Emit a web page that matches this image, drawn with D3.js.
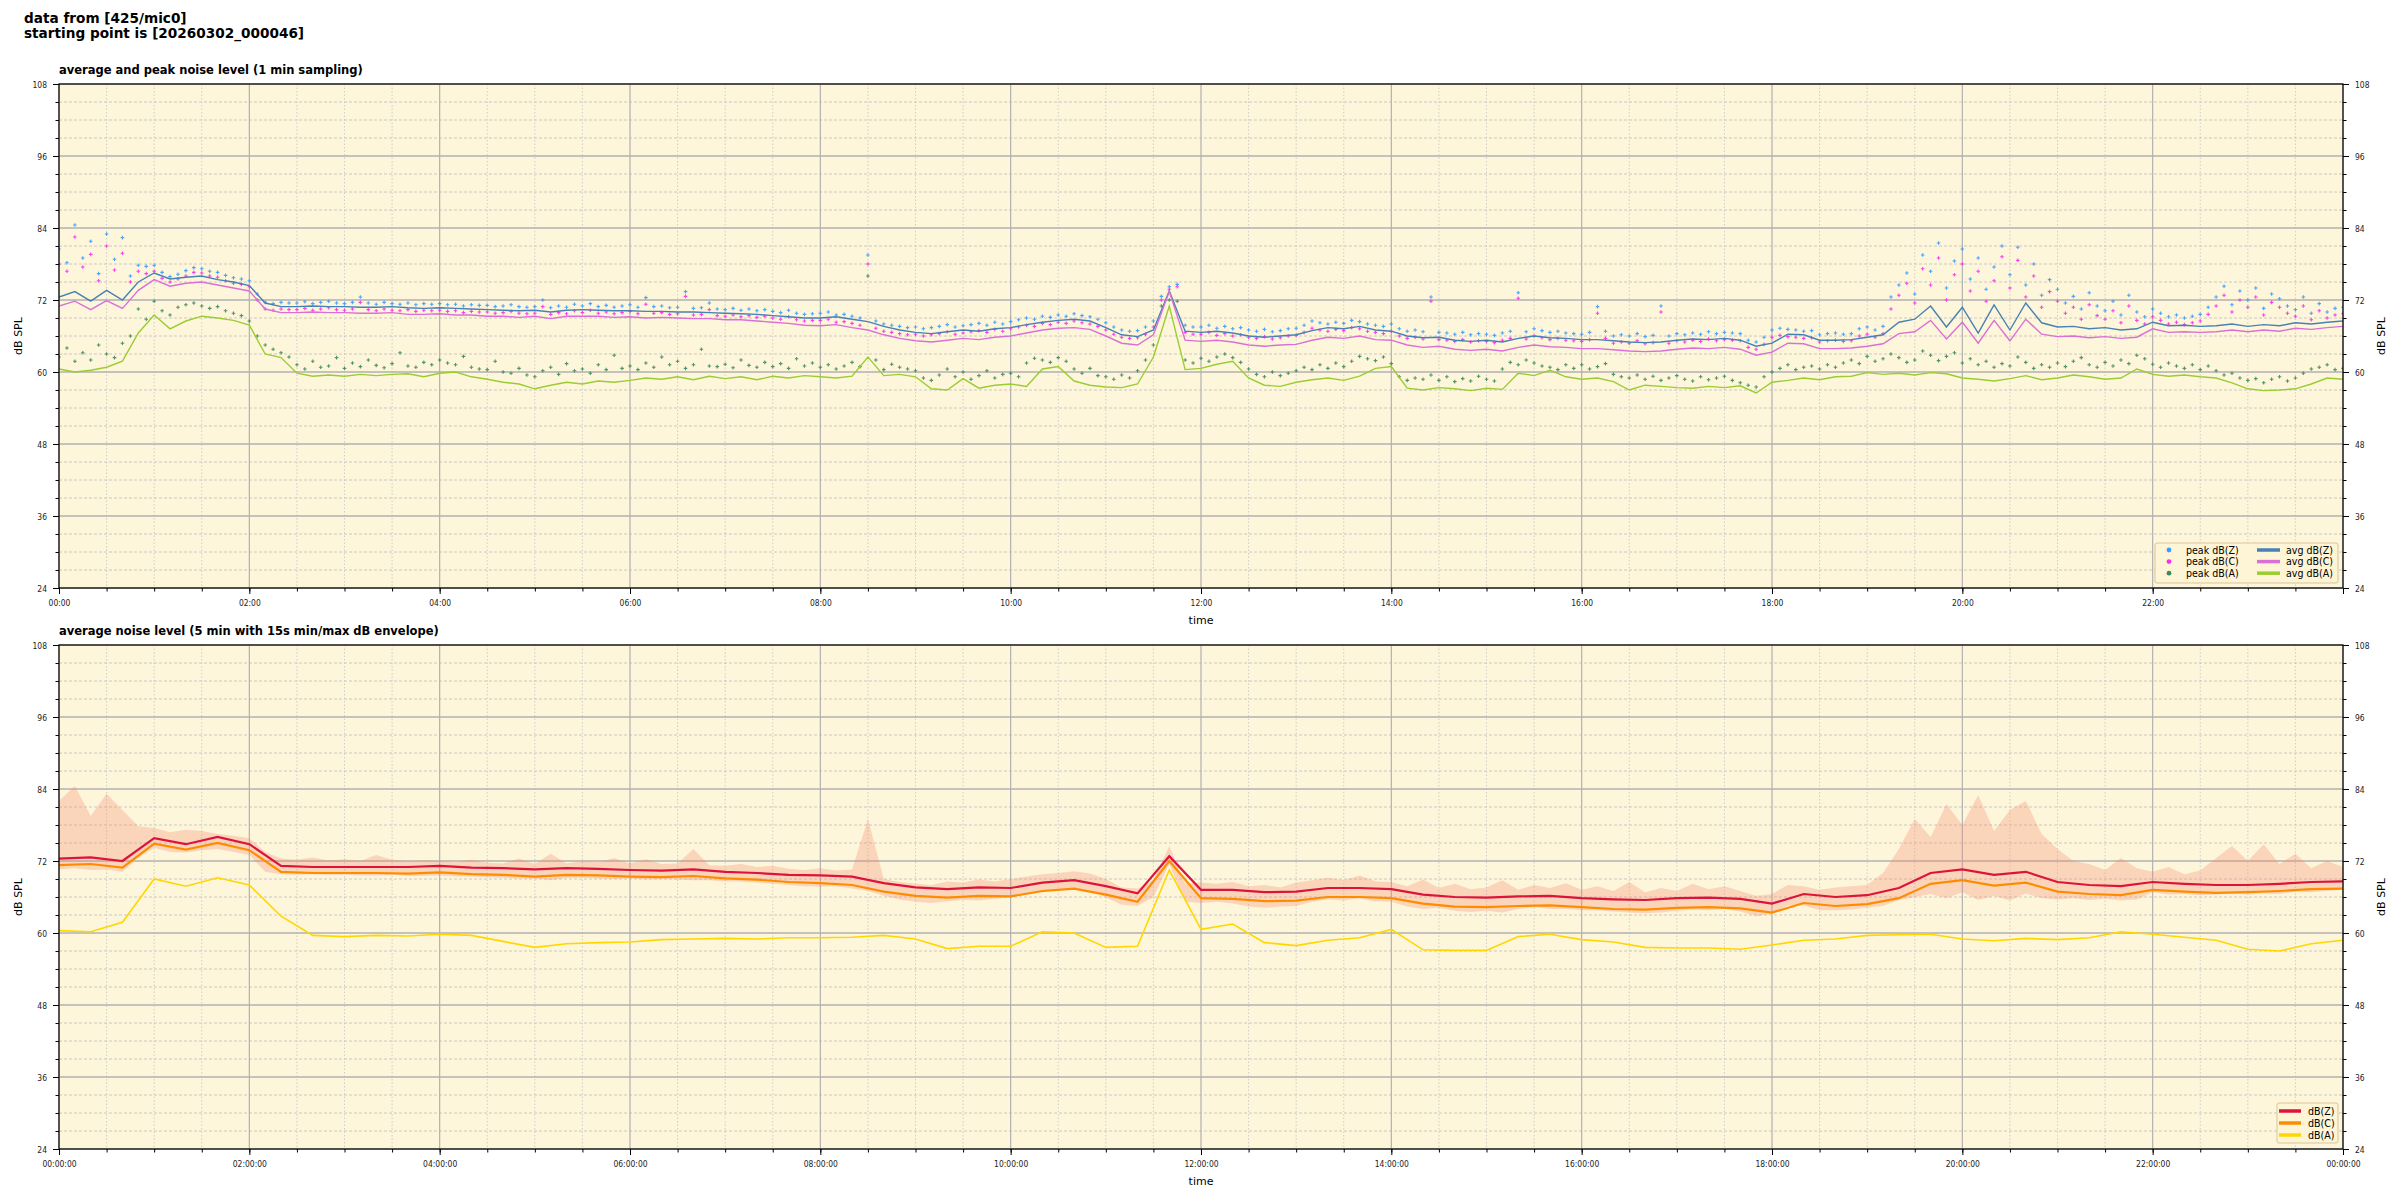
<!DOCTYPE html>
<html>
<head>
<meta charset="utf-8">
<script src="https://cdn.jsdelivr.net/npm/d3@7"></script>
<style>
  body { margin: 0; background: #fff; }
  svg { display: block; }
  text { font-family: "DejaVu Sans", sans-serif; }
</style>
</head>
<body>
<svg id="chart" width="2400" height="1200"></svg>
<script>
// ---- data (dB SPL) ----
// top panel, averages every 10 min, 00:00 .. 24:00 (one row per hour)
var avgZ = [
  72.5, 73.4, 71.8, 73.6, 72.0, 75.0,
  76.5, 75.5, 75.8, 76.0, 75.4, 75.0,
  74.4, 71.5, 70.9, 70.9, 71.0, 70.9,
  70.9, 70.8, 70.8, 70.9, 70.7, 70.6,
  70.7, 70.6, 70.5, 70.4, 70.3, 70.2,
  70.3, 70.0, 70.3, 70.4, 70.3, 70.2,
  70.2, 70.1, 70.1, 70.0, 70.0, 69.9,
  69.8, 69.7, 69.6, 69.4, 69.2, 69.0,
  69.0, 69.2, 68.8, 68.4, 67.6, 67.0,
  66.6, 66.4, 66.7, 67.0, 66.8, 67.2,
  67.4, 67.9, 68.3, 68.6, 68.8, 68.5,
  67.4, 66.2, 65.9, 67.0, 73.5, 66.8,
  66.6, 66.8, 66.5, 66.0, 65.8, 66.0,
  66.2, 66.9, 67.4, 67.2, 67.6, 67.0,
  66.8, 66.0, 65.7, 65.8, 65.3, 65.1,
  65.3, 65.0, 65.6, 66.0, 65.7, 65.6,
  65.4, 65.4, 65.2, 65.0, 64.9, 65.0,
  65.3, 65.5, 65.4, 65.6, 65.3, 64.3,
  64.8, 66.3, 66.2, 65.3, 65.3, 65.4,
  65.8, 66.2, 68.3, 68.8, 71.0, 67.5,
  70.8, 66.5, 71.2, 67.0, 71.5, 68.2,
  67.5, 67.6, 67.2, 67.4, 67.0, 67.2,
  68.3, 67.7, 67.8, 67.6, 67.7, 68.0,
  67.6, 67.9, 67.7, 68.2, 68.0, 68.3,
  68.5
];
var avgC = [
  71.0, 71.8, 70.4, 71.9, 70.6, 73.6,
  75.4, 74.3, 74.8, 75.0, 74.5, 74.0,
  73.5, 70.5, 69.9, 69.9, 70.0, 69.9,
  69.9, 69.8, 69.8, 69.9, 69.6, 69.6,
  69.7, 69.5, 69.5, 69.3, 69.3, 69.1,
  69.3, 68.9, 69.3, 69.3, 69.3, 69.1,
  69.2, 69.0, 69.1, 69.0, 68.9, 68.9,
  68.7, 68.7, 68.5, 68.3, 68.1, 67.8,
  67.7, 67.9, 67.4, 67.0, 66.2, 65.6,
  65.2, 65.0, 65.3, 65.6, 65.4, 65.8,
  66.0, 66.5, 67.0, 67.3, 67.4, 67.1,
  66.0, 64.8, 64.5, 66.2, 73.4, 65.3,
  65.1, 65.3, 65.0, 64.5, 64.3, 64.5,
  64.6, 65.3, 65.8, 65.6, 66.0, 65.4,
  65.3, 64.5, 64.1, 64.3, 63.8, 63.6,
  63.8, 63.5, 64.1, 64.5, 64.2, 64.1,
  63.9, 63.9, 63.7, 63.5, 63.4, 63.5,
  63.8, 64.0, 63.9, 64.1, 63.8, 62.8,
  63.3, 64.8, 64.7, 63.9, 63.9, 64.0,
  64.3, 64.7, 66.4, 66.7, 68.6, 65.5,
  68.3, 64.8, 68.6, 65.2, 68.8, 66.3,
  65.9, 66.0, 65.7, 65.9, 65.6, 65.8,
  67.2, 66.6, 66.7, 66.6, 66.7, 67.0,
  66.7, 67.0, 66.8, 67.3, 67.1, 67.4,
  67.6
];
var avgA = [
  60.5, 60.0, 60.3, 60.8, 61.8, 66.5,
  69.5, 67.2, 68.5, 69.3, 69.0, 68.6,
  67.8, 63.0, 62.4, 59.8, 59.3, 59.5,
  59.3, 59.6, 59.4, 59.6, 59.7, 59.2,
  59.8, 60.0, 59.2, 58.8, 58.3, 58.0,
  57.2, 57.8, 58.3, 58.0, 58.5, 58.3,
  58.6, 59.0, 58.8, 59.2, 58.7, 59.3,
  58.9, 59.2, 58.7, 59.3, 59.0, 59.4,
  59.2, 59.0, 59.3, 62.5, 59.4, 59.6,
  59.2, 57.2, 57.0, 58.9, 57.3, 57.8,
  58.0, 57.6, 60.5, 60.9, 58.5, 57.8,
  57.5, 57.4, 58.0, 62.5, 71.0, 60.4,
  60.6, 61.3, 61.8, 59.0, 57.8, 57.6,
  58.3, 58.7, 59.0, 58.6, 59.3, 60.6,
  60.9, 57.3, 57.0, 57.4, 57.2, 56.9,
  57.3, 57.1, 59.8, 59.4, 60.3, 59.2,
  58.8, 59.0, 58.4, 57.0, 57.8, 57.6,
  57.4, 57.3, 57.6, 57.4, 57.7, 56.5,
  58.3, 58.6, 59.0, 58.7, 59.2, 59.3,
  59.9, 59.6, 59.8, 59.5, 59.9, 59.7,
  59.0, 58.8, 58.5, 58.9, 59.4, 58.7,
  59.0, 59.5, 59.2, 58.8, 59.0, 60.5,
  59.6, 59.3, 59.5, 59.2, 59.0, 58.2,
  57.2, 56.9, 57.0, 57.2, 58.0, 59.0,
  58.8
];
// top panel, peaks every 5 min (one row per hour)
var peakZ = [
  80.5, 78.2, 84.5, 79.0, 81.8, 76.4, 83.0, 78.8, 82.4, 76.0, 77.8, 77.6,
  77.8, 76.6, 75.9, 76.3, 76.9, 77.4, 77.2, 76.8, 76.6, 76.1, 75.7, 75.5,
  75.2, 73.0, 71.6, 71.4, 71.6, 71.5, 71.5, 71.7, 71.4, 71.6, 71.8, 71.5,
  71.4, 71.6, 72.5, 71.5, 71.3, 71.6, 71.4, 71.3, 71.5, 71.2, 71.4, 71.3,
  71.4, 71.2, 71.3, 71.0, 71.2, 71.1, 71.1, 70.9, 71.0, 71.2, 70.9, 70.8,
  70.9, 72.0, 70.7, 71.0, 70.8, 71.3, 71.0, 71.4, 70.9, 71.1, 70.8, 71.0,
  71.2, 70.8, 72.4, 70.9, 71.0, 70.7, 70.8, 73.4, 70.6, 70.7, 71.5, 70.5,
  70.4, 70.6, 70.3, 70.5, 70.2, 70.4, 70.1, 69.9, 70.3, 69.8, 69.6, 69.7,
  69.8, 70.0, 69.5, 69.6, 69.3, 69.0, 79.5, 68.5, 68.0, 67.8, 67.6, 67.4,
  67.5, 67.2, 67.4, 67.6, 67.9, 67.5, 67.7, 67.9, 68.1, 67.8, 68.3, 68.0,
  68.4, 68.7, 69.0, 68.8, 69.3, 69.1, 69.5, 69.3, 69.7, 69.4, 69.2, 68.8,
  68.2, 67.5, 67.0, 66.8, 66.9, 67.5, 68.5, 72.6, 74.2, 74.6, 67.8, 67.5,
  67.5, 67.8, 67.3, 67.6, 67.2, 67.4, 67.0, 66.8, 67.1, 66.7, 66.9, 67.2,
  67.3, 67.8, 68.5, 68.2, 68.0, 68.3, 68.1, 68.6, 68.4, 68.0, 67.8, 67.6,
  68.0, 67.2, 66.8, 67.0, 66.7, 72.5, 66.6, 66.5, 66.3, 66.6, 66.2, 66.4,
  66.3, 66.1, 66.5, 66.8, 73.2, 66.7, 67.2, 66.9, 66.6, 66.8, 66.5, 66.4,
  66.3, 66.6, 70.9, 66.8, 66.0, 66.2, 66.0, 66.4, 65.9, 66.1, 71.0, 66.0,
  66.4, 66.2, 66.5, 66.3, 66.7, 66.4, 66.6, 66.5, 66.4, 65.3, 65.0, 65.8,
  67.0, 67.3, 67.1, 67.0, 66.8, 66.9, 66.2, 66.4, 66.5, 66.3, 66.4, 67.2,
  67.5, 67.0, 67.6, 72.5, 74.5, 76.5, 73.0, 79.5, 76.8, 81.5, 74.0, 78.5,
  80.5, 75.5, 79.0, 73.8, 77.5, 81.0, 76.2, 80.8, 74.5, 78.0, 72.8, 75.4,
  73.8, 71.5, 72.6, 70.5, 73.2, 71.0, 70.2, 71.8, 69.5, 72.8, 70.0, 69.2,
  70.5, 69.8, 69.2, 69.5, 69.0, 69.3, 69.6, 70.8, 72.5, 74.3, 71.2, 73.5,
  72.0, 74.0, 70.6, 73.0, 72.2, 71.0, 70.4, 72.5, 69.8, 71.4, 70.0, 70.6,
  70.8
];
var peakC = [
  78.0, 76.8, 82.5, 77.5, 79.6, 75.2, 81.0, 77.0, 79.8, 75.0, 76.8, 76.4,
  76.8, 75.6, 75.0, 75.5, 76.0, 76.6, 76.5, 76.0, 75.8, 75.2, 74.8, 74.6,
  74.2, 72.0, 70.5, 70.3, 70.5, 70.4, 70.4, 70.6, 70.3, 70.5, 70.7, 70.4,
  70.3, 70.5, 71.6, 70.4, 70.2, 70.5, 70.3, 70.2, 70.4, 70.1, 70.3, 70.2,
  70.3, 70.1, 70.2, 69.9, 70.1, 70.0, 70.0, 69.8, 69.9, 70.1, 69.8, 69.7,
  69.8, 70.9, 69.6, 69.9, 69.7, 70.2, 69.9, 70.3, 69.8, 70.0, 69.7, 69.9,
  70.1, 69.7, 71.3, 69.8, 69.9, 69.6, 69.7, 72.6, 69.5, 69.6, 70.4, 69.4,
  69.3, 69.5, 69.2, 69.4, 69.1, 69.3, 69.0, 68.8, 69.2, 68.7, 68.5, 68.6,
  68.6, 68.8, 68.3, 68.4, 68.1, 67.8, 78.0, 67.3, 66.8, 66.6, 66.4, 66.2,
  66.3, 66.0, 66.2, 66.4, 66.7, 66.3, 66.5, 66.7, 66.9, 66.6, 67.1, 66.8,
  67.2, 67.5, 67.8, 67.6, 68.1, 67.9, 68.3, 68.1, 68.5, 68.2, 68.0, 67.6,
  67.0, 66.3, 65.8, 65.6, 65.7, 66.3, 67.5, 72.0, 73.8, 74.2, 66.6, 66.3,
  66.3, 66.6, 66.1, 66.4, 66.0, 66.2, 65.8, 65.6, 65.9, 65.5, 65.7, 66.0,
  66.1, 66.6, 67.3, 67.0, 66.8, 67.1, 66.9, 67.4, 67.2, 66.8, 66.6, 66.4,
  66.8, 66.0, 65.6, 65.8, 65.5, 71.8, 65.4, 65.3, 65.1, 65.4, 65.0, 65.2,
  65.1, 64.9, 65.3, 65.6, 72.3, 65.5, 66.0, 65.7, 65.4, 65.6, 65.3, 65.2,
  65.1, 65.4, 69.8, 65.6, 64.8, 65.0, 64.8, 65.2, 64.7, 64.9, 70.0, 64.8,
  65.2, 65.0, 65.3, 65.1, 65.5, 65.2, 65.4, 65.3, 65.2, 64.1, 63.8, 64.6,
  65.8, 66.1, 65.9, 65.8, 65.6, 65.7, 65.0, 65.2, 65.3, 65.1, 65.2, 66.0,
  66.3, 65.8, 66.4, 70.5, 72.8, 74.8, 71.5, 77.2, 74.5, 79.0, 72.0, 76.2,
  78.0, 73.5, 76.8, 71.8, 75.2, 79.2, 74.0, 78.6, 72.5, 76.0, 70.8, 73.4,
  71.8, 69.8, 70.8, 68.8, 71.2, 69.4, 68.8, 70.2, 68.2, 71.0, 68.6, 68.0,
  69.2, 68.6, 68.0, 68.3, 67.9, 68.2, 68.5, 69.6, 71.0, 72.8, 70.0, 72.0,
  70.8, 72.5, 69.5, 71.6, 70.8, 69.8, 69.3, 71.0, 68.7, 70.2, 69.0, 69.5,
  69.7
];
var peakA = [
  62.5, 64.0, 61.8, 63.2, 62.0, 64.5, 63.0, 62.4, 64.8, 66.0, 70.5, 68.8,
  71.8, 70.2, 69.5, 70.8, 71.2, 71.5, 71.0, 70.6, 70.9, 70.2, 69.8, 69.4,
  68.5, 66.0, 64.5, 63.8, 63.2, 62.5, 61.2, 60.5, 61.8, 60.8, 61.0, 62.4,
  60.6, 61.5, 60.9, 62.0, 61.1, 60.7, 61.4, 63.2, 61.0, 60.8, 61.6, 61.2,
  62.0, 61.5, 61.2, 62.6, 60.8, 60.5, 60.4, 61.8, 60.0, 59.8, 60.6, 59.5,
  59.2, 60.2, 60.8, 59.6, 61.4, 60.2, 60.5, 59.8, 61.2, 60.4, 62.8, 60.6,
  61.0, 60.4, 61.5, 60.8, 62.5, 61.2, 61.8, 60.6, 61.2, 63.8, 61.0, 60.9,
  61.3, 60.7, 62.0, 61.1, 60.8, 61.6, 60.9, 61.4, 60.6, 62.2, 61.0, 61.5,
  60.8, 61.2, 60.5, 61.0, 61.6, 60.9, 76.0, 62.0, 60.4, 61.3, 60.8, 60.5,
  60.2, 59.0, 58.6, 59.5, 60.5, 59.2, 60.0, 58.8, 59.4, 60.2, 59.0, 59.6,
  59.8, 59.2, 61.5, 62.3, 62.0, 61.6, 62.4, 61.8, 60.5, 59.8, 60.6, 59.4,
  59.2, 58.8, 59.5, 59.0, 60.2, 62.0, 64.5, 71.0, 72.0, 71.8, 62.0, 61.5,
  62.3, 61.8, 62.5, 63.0, 62.4, 61.6, 60.5, 59.6, 59.2, 60.0, 59.4, 59.8,
  60.2, 60.8, 60.4, 61.2, 60.6, 61.5, 60.9, 61.8, 62.6, 62.2, 61.9, 62.5,
  61.4, 59.2, 58.6, 59.0, 58.8, 59.5, 58.6, 59.2, 58.4, 58.9, 58.5, 59.3,
  58.8, 58.5, 60.5, 61.6, 61.2, 62.0, 61.5, 61.0, 60.8, 60.4, 61.2, 60.6,
  61.2, 60.5, 60.9, 61.4, 59.6, 59.2, 59.0, 59.5, 58.8, 59.3, 58.6, 59.0,
  59.4, 58.8, 58.5, 59.2, 58.7, 59.0, 59.3, 58.6, 58.2, 57.8, 57.5, 59.2,
  60.0, 60.6, 61.2, 60.4, 60.8, 61.0, 60.5, 61.2, 60.8, 61.5, 62.0, 61.4,
  62.6, 61.8, 62.2, 63.0, 62.4, 61.6, 62.0, 63.5, 62.8, 61.9, 62.6, 63.2,
  61.5, 62.2, 61.2, 61.8, 60.8, 61.4, 61.0, 62.5, 61.6, 60.6, 61.2, 60.8,
  61.5, 60.9, 61.8, 62.4, 61.2, 60.8, 61.6, 61.0, 62.0, 61.4, 62.8, 62.2,
  61.3, 60.8, 61.5, 61.0, 60.6, 61.2, 60.4, 61.0, 60.2, 59.5, 59.8, 59.0,
  58.6, 58.9, 58.2, 58.8, 59.2, 58.5, 59.0, 59.8, 60.5, 60.8, 61.2, 60.4,
  60.6
];
// bottom panel, 5 min averages read every 20 min (one row per hour)
var botZ = [
  72.4, 72.6, 72.0,  75.8, 74.8, 76.0,  74.8, 71.2, 71.0,  71.0, 71.0, 71.0,
  71.2, 70.9, 70.8,  70.6, 70.8, 70.7,  70.5, 70.4, 70.6,  70.2, 70.0, 69.7,
  69.6, 69.4, 68.3,  67.6, 67.3, 67.6,  67.5, 68.4, 68.8,  67.8, 66.6, 72.8,
  67.2, 67.2, 66.8,  66.9, 67.5, 67.5,  67.3, 66.4, 66.0,  65.9, 66.1, 66.2,
  65.8, 65.6, 65.5,  65.8, 65.9, 65.7,  64.9, 66.5, 66.0,  66.3, 67.5, 70.0,
  70.6, 69.7, 70.2,  68.5, 68.0, 67.8,  68.5, 68.2, 68.0,  68.0, 68.2, 68.5,
  68.6
];
var botC = [
  71.3, 71.5, 70.9,  74.9, 73.9, 75.0,  73.8, 70.2, 70.0,  70.0, 70.0, 69.9,
  70.1, 69.8, 69.7,  69.4, 69.7, 69.6,  69.4, 69.3, 69.5,  69.1, 68.9, 68.5,
  68.3, 68.0, 66.9,  66.2, 65.9, 66.2,  66.1, 67.0, 67.4,  66.4, 65.2, 72.0,
  65.8, 65.7, 65.3,  65.4, 66.0, 66.0,  65.8, 64.9, 64.4,  64.3, 64.5, 64.6,
  64.3, 64.0, 63.9,  64.2, 64.3, 64.1,  63.4, 65.0, 64.5,  64.8, 65.8, 68.2,
  68.8, 67.9, 68.4,  66.9, 66.5, 66.3,  67.2, 66.9, 66.7,  66.8, 67.0, 67.3,
  67.4
];
var botA = [
  60.4, 60.2, 61.8,  69.0, 67.8, 69.2,  68.0, 62.8, 59.6,  59.4, 59.6, 59.5,
  59.8, 59.6, 58.6,  57.6, 58.2, 58.4,  58.5, 58.9, 59.0,  59.1, 59.0, 59.2,
  59.2, 59.3, 59.6,  59.0, 57.4, 57.8,  57.8, 60.2, 60.0,  57.6, 57.8, 70.5,
  60.6, 61.5, 58.4,  57.9, 58.8, 59.2,  60.6, 57.2, 57.1,  57.1, 59.4, 59.8,
  58.9, 58.5, 57.6,  57.5, 57.5, 57.3,  58.0, 58.8, 59.0,  59.6, 59.7, 59.8,
  59.0, 58.7, 59.1,  58.9, 59.2, 60.2,  59.8, 59.3, 58.8,  57.3, 57.0, 58.2,
  58.8
];
// bottom panel, 15 s min/max envelope read every 10 min
var envHi = [
  82.0, 84.5, 79.5, 83.2, 80.5, 77.8,
  77.5, 76.8, 77.2, 77.0, 76.5, 76.2,
  75.8, 73.5, 72.4, 72.2, 72.6, 72.1,
  72.3, 72.0, 73.0, 72.2, 71.9, 72.1,
  72.0, 71.8, 72.2, 71.7, 71.6, 72.4,
  71.5, 73.2, 71.6, 72.0, 71.8, 72.5,
  71.6, 72.3, 71.5, 71.6, 74.0, 71.3,
  71.2, 71.5, 71.0, 71.2, 70.7, 70.5,
  70.8, 70.4, 70.6, 79.0, 69.0, 68.5,
  68.2, 68.0, 68.6, 68.4, 68.9, 68.6,
  69.0, 69.4, 69.8, 70.0, 70.3, 69.9,
  69.0, 67.6, 67.4, 68.8, 74.5, 68.2,
  68.4, 68.2, 68.5, 67.8, 68.0, 67.6,
  68.4, 68.8, 69.2, 68.8, 69.6, 68.6,
  68.5, 67.8, 68.9, 67.5, 68.2, 67.3,
  67.6, 68.8, 67.2, 68.0, 67.5, 68.3,
  67.2, 67.8, 67.0, 68.5, 66.8, 67.5,
  67.0, 68.2, 67.3, 67.8, 67.0, 66.2,
  66.5, 68.0, 67.8, 67.2, 67.6, 67.8,
  68.0, 70.0, 74.0, 79.0, 76.0, 81.5,
  78.0, 83.0, 77.0, 80.5, 82.0, 76.5,
  74.0, 72.0, 71.5, 70.5, 72.5, 70.8,
  70.2, 71.0, 69.8, 70.4, 72.5, 74.5,
  72.0, 74.8, 71.5, 73.2, 70.8, 72.0,
  71.0
];
var envLo = [
  70.6, 70.8, 70.5, 70.6, 70.2, 72.5,
  74.2, 73.5, 73.4, 73.8, 74.0, 73.5,
  73.0, 70.2, 69.8, 69.7, 69.8, 69.7,
  69.7, 69.6, 69.6, 69.7, 69.5, 69.5,
  69.6, 69.4, 69.4, 69.3, 69.2, 69.1,
  69.1, 68.8, 69.2, 69.2, 69.1, 69.0,
  69.1, 68.9, 69.0, 68.9, 68.8, 68.8,
  68.6, 68.6, 68.4, 68.2, 68.0, 67.8,
  67.7, 67.8, 67.4, 67.0, 66.2, 65.6,
  65.2, 65.0, 65.3, 65.5, 65.4, 65.7,
  65.9, 66.4, 66.8, 67.1, 67.3, 67.0,
  65.9, 64.7, 64.5, 66.0, 71.5, 65.2,
  65.0, 65.2, 64.9, 64.4, 64.2, 64.4,
  64.5, 65.2, 65.6, 65.4, 65.8, 65.3,
  65.2, 64.4, 64.0, 64.2, 63.7, 63.5,
  63.7, 63.4, 64.0, 64.3, 64.0, 64.0,
  63.8, 63.8, 63.6, 63.4, 63.3, 63.4,
  63.7, 63.9, 63.8, 64.0, 63.6, 62.8,
  63.2, 64.6, 64.6, 63.8, 63.8, 63.9,
  64.2, 64.5, 65.5, 66.0, 66.5, 65.8,
  66.8, 65.5, 66.2, 65.4, 66.6, 65.8,
  65.6, 65.8, 65.5, 65.7, 65.4, 65.6,
  66.8, 66.4, 66.5, 66.3, 66.4, 66.6,
  66.4, 66.6, 66.5, 66.9, 66.8, 67.0,
  67.2
];

var yMajor = [24, 36, 48, 60, 72, 84, 96, 108];
var yMinor = d3.range(24, 109, 3);

var T0 = Date.UTC(2026, 2, 2);

// spread an evenly sampled array over the day
function series(vals) {
  var step = 1440 / (vals.length - 1);
  return vals.map(function (v, i) { return { t: new Date(T0 + i * step * 60000), v: v }; });
}

var svg = d3.select("#chart");
var L = 59, R = 2343;
var x = d3.scaleUtc().domain([new Date(T0), new Date(T0 + 864e5)]).range([L, R]);
var xMajor = d3.utcHour.every(2).range(new Date(T0), new Date(T0 + 864e5 + 1));
var xMinor = d3.utcMinute.every(30).range(new Date(T0), new Date(T0 + 864e5 + 1));

// sx squeezes text horizontally (tick labels in the reference are narrow)
function label(g, px, py, s, o) {
  o = o || {};
  return g.append("text")
    .attr("transform", "translate(" + px + "," + py + ") scale(" + (o.sx || 1) + ",1)" + (o.rot ? " rotate(" + o.rot + ")" : ""))
    .attr("font-size", o.size || 10)
    .attr("font-weight", o.bold ? "bold" : null)
    .attr("text-anchor", o.anchor || "start")
    .attr("fill", "#000")
    .text(s);
}

label(svg, 24, 23, "data from [425/mic0]", { size: 14.5, bold: true, sx: 0.94 });
label(svg, 24, 38, "starting point is [20260302_000046]", { size: 14.5, bold: true, sx: 0.94 });

function panel(top, bottom, id, title, fmt, lastLabel) {
  var y = d3.scaleLinear().domain([24, 108]).range([bottom, top]);
  var g = svg.append("g");

  g.append("rect").attr("x", L).attr("y", top).attr("width", R - L).attr("height", bottom - top)
    .attr("fill", "#fef6da");

  // grid
  var grid = g.append("g");
  grid.selectAll(".ym").data(yMinor.filter(function (d) { return d % 12; })).enter().append("line")
    .attr("x1", L).attr("x2", R).attr("y1", y).attr("y2", y)
    .attr("stroke", "#bcbcbc").attr("stroke-width", 0.8).attr("stroke-dasharray", "3,2");
  grid.selectAll(".xm").data(xMinor.filter(function (d) { return d.getUTCMinutes() || d.getUTCHours() % 2; })).enter().append("line")
    .attr("y1", top).attr("y2", bottom).attr("x1", x).attr("x2", x)
    .attr("stroke", "#c4c4c4").attr("stroke-width", 0.8).attr("stroke-dasharray", "1.5,2");
  grid.selectAll(".yM").data(yMajor).enter().append("line")
    .attr("x1", L).attr("x2", R).attr("y1", y).attr("y2", y)
    .attr("stroke", "#b0b0b0").attr("stroke-width", 1.6);
  grid.selectAll(".xM").data(xMajor).enter().append("line")
    .attr("y1", top).attr("y2", bottom).attr("x1", x).attr("x2", x)
    .attr("stroke", "#b0b0b0").attr("stroke-width", 1.2);

  svg.append("clipPath").attr("id", id).append("rect")
    .attr("x", L).attr("y", top).attr("width", R - L).attr("height", bottom - top);
  var plot = g.append("g").attr("clip-path", "url(#" + id + ")");

  // spine
  g.append("rect").attr("x", L).attr("y", top).attr("width", R - L).attr("height", bottom - top)
    .attr("fill", "none").attr("stroke", "#000").attr("stroke-width", 1.2);

  // axes
  function tidy(a) {
    a.select(".domain").remove();
    a.selectAll("line").attr("stroke", "#000");
    a.attr("font-family", "DejaVu Sans").attr("font-size", 9.5);
    a.selectAll("text").attr("fill", "#222");
  }
  var aL = g.append("g").attr("transform", "translate(" + L + ",0)")
    .call(d3.axisLeft(y).tickValues(yMajor).tickSize(6).tickPadding(5));
  tidy(aL);
  aL.selectAll("text").attr("x", -12 / 0.8).attr("transform", "scale(0.8,1)");
  g.append("g").attr("transform", "translate(" + L + ",0)")
    .call(d3.axisLeft(y).tickValues(yMinor).tickSize(3.5).tickFormat("")).call(tidy);
  var aR = g.append("g").attr("transform", "translate(" + R + ",0)")
    .call(d3.axisRight(y).tickValues(yMajor).tickSize(6).tickPadding(5));
  tidy(aR);
  aR.selectAll("text").attr("x", 12 / 0.8).attr("transform", "scale(0.8,1)");
  g.append("g").attr("transform", "translate(" + R + ",0)")
    .call(d3.axisRight(y).tickValues(yMinor).tickSize(3.5).tickFormat("")).call(tidy);
  var aB = g.append("g").attr("transform", "translate(0," + bottom + ")")
    .call(d3.axisBottom(x).tickValues(xMajor).tickSize(6).tickFormat(function (d, i) {
      return (i === xMajor.length - 1) ? lastLabel : d3.utcFormat(fmt)(d);
    }));
  tidy(aB);
  aB.selectAll("text").attr("y", 11).attr("transform", "scale(0.8,1)");
  g.append("g").attr("transform", "translate(0," + bottom + ")")
    .call(d3.axisBottom(x).tickValues(xMinor).tickSize(3.5).tickFormat("")).call(tidy);

  label(g, L, top - 10, title, { size: 12, bold: true, sx: 0.96 });
  label(g, 22, (top + bottom) / 2, "dB SPL", { size: 11, anchor: "middle", rot: -90 });
  label(g, 2385, (top + bottom) / 2, "dB SPL", { size: 11, anchor: "middle", rot: -90 });
  label(g, (L + R) / 2, bottom + 36, "time", { size: 11, anchor: "middle" });

  return { y: y, plot: plot, g: g };
}

// ---- top: average and peak ----
var p1 = panel(84, 588, "clipTop", "average and peak noise level (1 min sampling)", "%H:%M", "");
var peakSeries = [
  { name: "peak dB(Z)", data: peakZ, color: "#3a9cff" },
  { name: "peak dB(C)", data: peakC, color: "#ff2cf0" },
  { name: "peak dB(A)", data: peakA, color: "#3d8b5a" }
];
var avgSeries = [
  { name: "avg dB(Z)", data: avgZ, color: "#4682b4" },
  { name: "avg dB(C)", data: avgC, color: "#da70d6" },
  { name: "avg dB(A)", data: avgA, color: "#9acd32" }
];
peakSeries.forEach(function (s) {
  p1.plot.append("g").selectAll("path").data(series(s.data)).enter().append("path")
    .attr("transform", function (d) { return "translate(" + x(d.t) + "," + p1.y(d.v) + ")"; })
    .attr("d", "M-1.8,0H1.8M0,-1.8V1.8")
    .attr("stroke", s.color).attr("stroke-width", 1.1).attr("opacity", 0.9);
});
avgSeries.forEach(function (s) {
  p1.plot.append("path").datum(series(s.data))
    .attr("fill", "none").attr("stroke", s.color).attr("stroke-width", 1.4)
    .attr("d", d3.line().x(function (d) { return x(d.t); }).y(function (d) { return p1.y(d.v); }));
});

// legend top
var lg1 = p1.g.append("g");
lg1.append("rect").attr("x", 2155).attr("y", 543).attr("width", 183).attr("height", 40).attr("rx", 2)
  .attr("fill", "#fef4d6").attr("stroke", "#dcc396").attr("stroke-width", 1);
peakSeries.forEach(function (s, i) {
  var ry = 550 + i * 11.6;
  lg1.append("circle").attr("cx", 2169).attr("cy", ry).attr("r", 2.4).attr("fill", s.color);
  label(lg1, 2186, ry + 3.6, s.name, { size: 10, sx: 0.95 });
});
avgSeries.forEach(function (s, i) {
  var ry = 550 + i * 11.6;
  lg1.append("line").attr("x1", 2257).attr("x2", 2280).attr("y1", ry).attr("y2", ry)
    .attr("stroke", s.color).attr("stroke-width", 3.5);
  label(lg1, 2286, ry + 3.6, s.name, { size: 10, sx: 0.95 });
});

// ---- bottom: 5 min average with envelope ----
var p2 = panel(645, 1149, "clipBot", "average noise level (5 min with 15s min/max dB envelope)", "%H:%M:%S", "00:00:00");
var env = envHi.map(function (v, i) { return { hi: v, lo: envLo[i] }; });
var envStep = 1440 / (env.length - 1);
p2.plot.append("path").datum(env)
  .attr("fill", "#f4876f").attr("opacity", 0.3)
  .attr("d", d3.area()
    .x(function (d, i) { return x(new Date(T0 + i * envStep * 60000)); })
    .y0(function (d) { return p2.y(d.lo); })
    .y1(function (d) { return p2.y(d.hi); }));
var botSeries = [
  { name: "dB(Z)", data: botZ, color: "#dc143c", w: 2.2 },
  { name: "dB(C)", data: botC, color: "#ff8c00", w: 2.2 },
  { name: "dB(A)", data: botA, color: "#ffd700", w: 1.6 }
];
botSeries.forEach(function (s) {
  p2.plot.append("path").datum(series(s.data))
    .attr("fill", "none").attr("stroke", s.color).attr("stroke-width", s.w)
    .attr("d", d3.line().x(function (d) { return x(d.t); }).y(function (d) { return p2.y(d.v); }));
});
var lg2 = p2.g.append("g");
lg2.append("rect").attr("x", 2277).attr("y", 1103).attr("width", 61).attr("height", 40).attr("rx", 2)
  .attr("fill", "#fef4d6").attr("stroke", "#dcc396").attr("stroke-width", 1);
botSeries.forEach(function (s, i) {
  var ry = 1111 + i * 12;
  lg2.append("line").attr("x1", 2279).attr("x2", 2301).attr("y1", ry).attr("y2", ry)
    .attr("stroke", s.color).attr("stroke-width", 3.5);
  label(lg2, 2308, ry + 3.6, s.name, { size: 10, sx: 0.95 });
});
</script>
